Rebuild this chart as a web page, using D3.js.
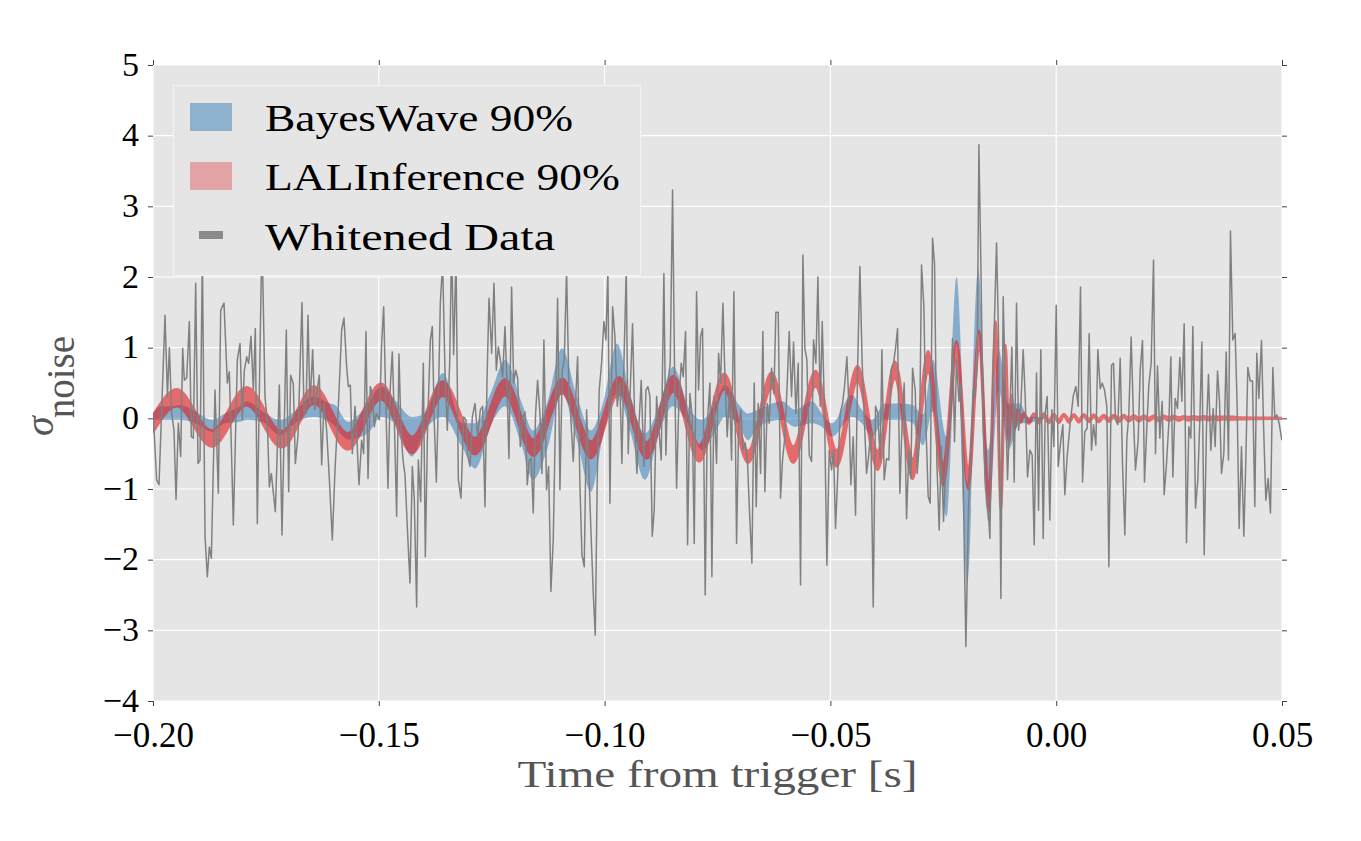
<!DOCTYPE html>
<html>
<head>
<meta charset="utf-8">
<script src="https://cdn.jsdelivr.net/npm/d3@7"></script>
<style>
  body { margin: 0; background: #ffffff; }
  svg { display: block; }
  svg text { font-family: 'Liberation Serif', 'Times New Roman', Times, serif; }
</style>
</head>
<body>
<svg id="chart" width="1361" height="841"></svg>
<script>
// ---------------- DATA (times in milliseconds from trigger) ----------------
const xTickValues = [-0.20, -0.15, -0.10, -0.05, 0.00, 0.05];
const xTickLabels = ["\u22120.20", "\u22120.15", "\u22120.10", "\u22120.05", "0.00", "0.05"];
const yTickValues = [-4, -3, -2, -1, 0, 1, 2, 3, 4, 5];
const yTickLabels = ["\u22124", "\u22123", "\u22122", "\u22121", "0", "1", "2", "3", "4", "5"];
const seriesNames = ["BayesWave 90%", "LALInference 90%", "Whitened Data"];

// Whitened data: [time (ms), sigma]
const whitenedData = [
[-199.9,0.0],[-199.2,-0.87],[-198.67,-0.94],[-197.34,1.46],[-196.8,0.31],[-196.38,1.0],[-195.86,0.07],[-195.35,-0.17],
[-194.9,-1.15],[-194.39,-0.07],[-193.87,-0.54],[-193.43,0.99],[-193.06,0.54],[-192.54,0.57],[-191.95,1.37],[-191.51,-0.26],
[-191.07,-0.28],[-190.55,1.91],[-190.03,-0.64],[-189.59,-0.59],[-189.07,2.3],[-188.48,-1.67],[-187.97,-2.24],[-187.52,-1.82],
[-187.08,-1.98],[-186.27,0.4],[-185.53,-1.06],[-185.01,1.53],[-184.28,1.63],[-183.54,0.5],[-183.1,0.66],[-182.65,-0.4],
[-182.21,-1.51],[-181.32,0.83],[-180.73,1.06],[-180.22,-0.02],[-179.77,0.68],[-179.26,0.87],[-178.82,0.78],[-178.3,1.16],
[-177.78,0.4],[-177.34,1.27],[-176.9,-1.49],[-176.38,0.68],[-175.86,2.6],[-175.2,0.31],[-174.68,-0.07],[-174.24,-0.97],
[-173.8,-0.78],[-172.91,-1.32],[-172.02,0.47],[-171.44,-1.65],[-170.48,1.25],[-169.96,-1.04],[-169.52,0.61],[-168.93,0.49],
[-168.48,-0.64],[-167.89,-0.24],[-167.01,1.64],[-166.56,0.07],[-166.12,0.07],[-165.68,1.46],[-165.24,0.17],[-164.65,0.97],
[-164.2,0.12],[-163.76,0.35],[-163.17,0.61],[-162.65,-0.66],[-162.14,0.21],[-161.55,-0.17],[-160.96,-0.85],[-160.29,-1.72],
[-159.7,-0.73],[-158.96,0.17],[-158.22,1.25],[-157.71,1.42],
[-157.12,0.73],[-156.75,0.45],[-156.31,0.47],[-155.86,-0.5],[-155.27,0.17],[-154.83,-0.31],[-154.39,-0.94],[-153.8,-0.31],
[-153.35,-0.5],[-152.84,1.23],[-152.39,-0.85],[-151.88,0.45],[-151.43,0.35],[-150.99,-0.12],[-150.55,0.07],[-149.88,-0.02],
[-149.37,1.06],[-148.92,1.58],[-148.48,0.31],[-147.97,-0.99],[-147.45,0.45],[-147.01,0.94],[-146.56,-0.02],[-146.05,-1.39],
[-145.53,0.91],[-145.09,-0.17],[-144.64,-0.59],[-144.2,-0.8],[-143.69,-1.53],[-143.1,-2.33],[-142.58,-0.68],[-142.14,-1.15],
[-141.62,-2.67],[-141.25,-0.59],[-140.73,-1.18],[-140.14,0.78],[-139.7,-1.96],[-139.18,-0.07],[-138.59,1.11],[-138.15,1.3],
[-137.71,-0.07],[-137.26,-0.9],[-136.82,0.21],[-136.38,1.63],[-135.86,2.2],[-135.35,0.68],[-134.83,-0.17],[-134.31,0.78],
[-133.87,2.5],[-133.43,0.9],[-132.91,2.3],[-132.39,-0.87],[-131.8,-1.13],[-131.21,0.02],[-130.7,-0.02],[-130.33,-0.52],
[-129.81,-0.68],[-129.29,0.02],[-128.7,0.21],[-128.11,-0.26],[-127.52,0.12],[-127.01,0.17],[-126.49,-1.25],[-126.05,0.5],
[-125.6,1.7],[-125.01,0.92],[-124.5,1.91],[-123.98,0.68],[-123.54,1.01],[-123.1,0.83],[-122.58,0.59],[-122.06,1.3],
[-121.62,0.5],[-121.18,-0.57],[-120.59,1.86],[-120.14,0.5],[-119.7,0.68],[-119.26,0.57],[-118.67,-0.4],[-118.22,-0.02],
[-117.63,0.09],[-117.12,-0.94],
[-116.68,-0.59],[-116.24,-0.57],[-115.8,-1.34],[-115.28,0.07],[-114.84,0.54],[-114.32,0.07],[-113.88,-0.78],[-113.44,1.11],
[-112.85,-1.01],[-112.4,-0.68],[-111.89,-2.45],[-111.37,-1.72],[-110.93,-0.17],[-110.41,1.7],[-109.89,-1.01],[-109.38,0.68],
[-108.93,0.83],[-108.42,2.1],[-107.9,0.4],[-107.46,-0.02],[-106.94,-0.61],[-106.5,0.12],[-105.98,0.87],[-105.47,-0.92],
[-105.02,-1.93],[-104.51,-2.1],[-103.99,0.12],[-103.55,-0.64],[-103.03,-1.58],[-102.51,-2.48],[-102.07,-3.07],[-101.63,-0.87],
[-101.19,0.4],[-100.67,0.78],[-100.15,1.37],[-99.71,1.11],[-99.27,2.1],[-98.82,-1.2],[-98.23,1.58],[-97.72,1.16],
[-97.2,0.17],[-96.61,0.5],[-96.17,-0.64],[-95.72,0.78],[-95.21,2.1],[-94.77,-0.5],[-94.32,0.4],[-93.81,1.34],
[-93.29,-0.19],[-92.85,-0.78],[-92.33,-0.02],[-91.89,0.54],[-91.3,-0.68],[-90.85,0.4],[-90.41,0.45],[-89.97,0.31],
[-89.45,-1.67],[-89.01,-1.29],[-88.49,0.31],[-88.05,-0.09],[-87.46,-0.59],[-86.87,2.05],[-86.43,-0.52],[-85.98,0.5],
[-85.47,0.78],[-84.95,3.23],[-84.51,0.68],[-84.06,-0.99],[-83.55,0.26],[-83.03,0.78],[-82.59,0.59],[-82.07,1.23],
[-81.63,-1.79],[-81.11,0.35],[-80.6,0.02],[-80.15,-1.77],[-79.64,1.79],[-79.19,0.4],[-78.75,1.16],[-78.31,1.27],
[-77.72,-2.5],[-77.27,-0.07],[-76.68,0.5],[-76.24,-2.24],[-75.8,0.31],
[-75.21,-0.64],[-74.76,0.92],[-74.32,0.5],[-73.8,1.63],[-73.36,0.59],[-72.85,-0.26],[-72.33,0.4],[-71.89,-0.59],
[-71.37,1.79],[-70.78,-1.77],[-70.34,-0.17],[-69.82,0.12],[-69.38,-0.45],[-68.86,-0.35],[-68.34,-0.64],[-67.9,-1.34],
[-67.38,-2.05],[-66.87,0.5],[-66.42,-1.25],[-65.98,0.21],[-65.46,-0.78],[-64.95,1.23],[-64.51,-1.04],[-63.99,0.21],
[-63.55,-0.07],[-63.03,0.71],[-62.51,0.35],[-62.07,1.5],[-61.55,1.5],[-61.04,-1.13],[-60.6,-0.59],[-60.08,-0.26],
[-59.56,0.5],[-59.12,1.23],[-58.6,0.31],[-58.16,1.08],[-57.64,0.07],[-57.13,0.78],[-56.61,-2.36],[-56.09,2.31],
[-55.65,0.99],[-55.21,0.83],[-54.69,-0.52],[-54.17,-0.61],[-53.73,1.11],[-53.21,0.78],[-52.77,2.0],[-52.25,0.17],
[-51.81,1.37],[-51.3,0.07],[-50.78,-2.08],[-50.26,-0.45],[-49.75,-0.73],[-49.3,-0.45],[-48.86,-1.56],[-48.27,-0.64],
[-47.83,0.07],[-47.31,0.21],[-46.87,0.45],[-46.35,0.87],[-45.91,0.21],[-45.47,-0.94],[-44.95,-0.26],[-44.43,-1.37],
[-43.99,0.68],[-43.47,2.15],[-42.96,0.78],[-42.51,0.02],[-41.99,-0.78],[-41.55,-0.54],[-41.04,-0.19],[-40.52,-2.67],
[-40.0,0.17],[-39.49,0.07],[-38.97,-0.59],[-38.6,0.97],[-38.09,-0.87],[-37.57,-0.57],[-37.05,-0.59],[-36.54,0.68],
[-36.02,0.78],[-35.58,0.99],[-35.13,1.27],[-34.62,-1.06],
[-34.1,-0.02],[-33.66,0.5],[-33.14,-1.42],[-32.62,-0.45],[-32.18,-0.85],[-31.81,0.71],[-31.22,0.4],[-30.78,-0.78],
[-30.26,-0.31],[-29.82,2.17],[-29.3,1.58],[-28.86,-0.07],[-28.34,-1.11],[-27.9,-1.2],[-27.38,2.55],[-26.94,2.19],
[-26.42,-0.64],[-25.91,-1.58],[-25.46,-0.4],[-24.95,-1.46],[-24.43,-0.64],[-23.91,-0.17],[-23.47,-0.07],[-22.96,1.13],
[-22.51,-0.33],[-22.07,0.83],[-21.55,0.24],[-21.11,0.5],[-20.59,-0.92],[-20.0,-3.23],[-19.41,-1.25],[-18.9,-0.64],
[-18.38,0.4],[-17.94,0.31],[-17.49,0.78],[-17.12,3.87],[-16.68,2.19],[-16.17,-0.17],[-15.65,-1.01],[-15.21,-1.11],
[-14.69,-1.7],[-14.25,0.02],[-13.73,1.25],[-13.21,2.48],[-12.77,1.16],[-12.25,-2.55],[-11.74,1.72],[-11.29,0.45],
[-10.78,-0.87],[-10.26,0.07],[-9.82,1.01],[-9.3,-0.9],[-8.79,1.63],[-8.34,-0.17],[-7.83,0.17],[-7.31,0.97],
[-6.87,0.31],[-6.35,-0.83],[-5.83,-0.45],[-5.32,-0.52],[-4.87,-1.79],[-4.36,0.64],[-3.91,-1.3],[-3.4,0.97],
[-2.88,-1.7],[-2.44,0.07],[-2.0,0.31],[-1.41,-1.44],[-0.96,0.12],[-0.52,-0.4],[0.0,1.6],[0.44,-0.68],
[0.96,-0.35],[1.47,-0.09],[1.91,-1.08],[2.43,-0.54],[3.02,-0.12],[3.76,0.31],[4.35,0.45],[4.87,0.17],
[5.38,1.86],[5.83,-0.9],
[6.34,-0.19],[6.86,-0.14],[7.3,1.2],[7.82,-0.45],[8.26,-0.09],[8.78,-0.38],[9.22,0.97],[9.74,0.42],
[10.18,0.5],[10.7,0.4],[11.21,0.17],[11.66,-2.1],[12.25,0.75],[12.69,0.78],[13.13,-0.02],[13.65,-0.09],
[14.17,0.85],[14.68,-0.64],[15.2,-1.65],[15.64,-0.31],[16.09,0.07],[16.6,1.15],[17.12,-0.02],[17.56,-0.73],
[18.15,-0.31],[18.6,0.68],[19.11,1.1],[19.55,-0.9],[20.07,-0.12],[20.51,0.47],[21.03,0.78],[21.55,2.24],
[21.99,-0.5],[22.43,0.74],[22.95,-0.28],[23.47,0.24],[23.91,-1.08],[24.43,-0.64],[24.94,-0.07],[25.38,0.87],
[25.83,-0.83],[26.34,0.28],[26.86,0.14],[27.38,0.86],[27.82,0.24],[28.34,1.34],[28.85,-1.76],[29.37,-0.12],
[29.81,-0.28],[30.26,1.3],[30.85,-1.27],[31.36,-0.87],[31.81,-0.02],[32.25,1.08],[32.77,-1.93],[33.28,-0.12],
[33.72,0.62],[34.24,-0.45],[34.76,0.14],[35.2,-0.4],[35.72,0.67],[36.16,0.24],[36.6,-0.78],[37.12,-0.5],
[37.64,0.94],[38.15,-0.59],[38.59,2.65],[39.11,1.11],[39.63,1.2],[40.07,0.17],[40.51,-1.56],[41.03,-0.4],
[41.55,-1.67],[41.99,-0.59],[42.43,0.72],[42.95,0.53],[43.47,0.53],[43.98,-1.25],[44.42,0.92],[44.87,0.28],
[45.46,1.1],[45.9,-0.07],[46.42,-1.16],[46.93,-0.85],[47.45,-1.34],[47.97,0.72],[48.41,0.0],[48.85,0.05],
[49.37,-0.07],[49.96,-0.31]
];

// BayesWave 90% band
const bayesTimeMs = [-200.0,-198.45,-196.24,-194.02,-190.7,-186.94,-184.06,-180.74,-179.19,-175.87,-171.88,-168.56,-164.58,-160.81,
  -159.7,-156.83,-152.4,-149.52,-146.42,-142.66,-139.78,-135.79,-131.59,-128.71,-124.95,-122.07,-118.3,-115.87,-112.77,-109.45,
  -106.13,-103.03,-100.37,-97.27,-94.39,-91.07,-87.75,-84.87,-81.11,-78.45,-75.57,-73.36,-70.48,-68.27,-66.05,-60.74,-57.86,
  -54.1,-51.89,-49.67,-45.24,-43.03,-40.81,-37.93,-34.61,-31.73,-29.52,-27.31,-24.27,-22.06,-19.71,-17.28,-15.07,-12.7,-10.64,
  -8.05,-6.21,-3.62,-2.0];
const bayesUpper = [0.07,0.17,0.17,0.19,0.1,-0.02,0.07,0.17,0.24,0.1,-0.02,0.1,0.31,0.21,
  0.19,-0.05,0.21,0.45,0.26,0.02,0.07,0.64,-0.07,-0.07,0.4,0.83,0.21,-0.17,0.21,0.99,
  0.31,-0.17,0.21,1.06,0.35,-0.21,0.21,0.73,0.12,-0.02,0.21,0.47,0.21,0.07,0.12,0.24,0.12,
  0.24,0.07,-0.07,0.33,0.12,-0.02,0.21,0.21,0.19,0.05,0.83,-0.26,2.0,-0.92,2.12,-0.45,0.96,0.21,
  0.21,0.02,0.02,0.0];
const bayesLower = [-0.02,-0.02,-0.02,-0.02,-0.07,-0.19,-0.07,-0.05,-0.02,-0.05,-0.24,-0.07,0.02,-0.05,
  -0.12,-0.3,-0.21,0.02,-0.07,-0.54,-0.17,0.02,-0.4,-0.71,-0.07,0.17,-0.4,-0.87,-0.45,0.35,
  -0.31,-1.04,-0.26,0.35,-0.17,-0.87,-0.17,0.17,-0.12,-0.45,-0.2,0.02,-0.07,-0.31,-0.12,-0.02,-0.12,
  -0.07,-0.12,-0.26,0.02,-0.07,-0.26,-0.02,-0.02,-0.07,-0.38,0.1,-1.39,1.06,-2.33,1.2,-1.46,0.4,-0.45,
  -0.07,-0.07,-0.02,0.0];

// LALInference 90% band
const lalTimeMs = [-200.0,-194.75,-187.0,-179.25,-171.51,-164.29,-156.89,-149.52,-142.59,-135.86,-128.71,-122.07,-115.8,
  -109.38,-103.03,-96.76,-90.7,-84.8,-79.05,-73.51,-68.2,-63.02,-58.24,-53.28,-48.63,-44.0,-39.55,-35.72,-31.8,-28.35,
  -25.03,-22.06,-19.49,-17.05,-14.91,-13.42,-12.25,-11.21,-10.48,-9.88,-9.22,-8.49,-7.83,
  -7.16,-6.05,-4.95,-3.84,-2.73,-1.63,-0.52,0.59,1.69,2.8,3.91,5.01,6.12,7.23,8.33,9.44,10.55,11.66,12.76,13.87,14.98,
  16.09,17.19,18.3,19.4,20.51,21.62,22.72,23.83,24.94,26.04,27.15,28.26,29.37,30.47,31.58,32.69,33.79,34.9,36.01,37.12,
  38.22,39.33,40.66,50.0];
const lalUpper = [0.04,0.41,-0.17,0.44,-0.18,0.45,-0.21,0.49,-0.26,0.52,-0.28,0.55,-0.3,
  0.56,-0.33,0.58,-0.34,0.6,-0.38,0.63,-0.46,0.65,-0.4,0.67,-0.45,0.74,-0.46,0.8,-0.57,0.95,
  -0.64,1.09,-0.69,1.24,-1.02,1.37,-1.0,1.04,-0.16,0.33,-0.04,0.14,0.01,
  0.078,-0.032,0.068,-0.022,0.068,-0.022,0.063,-0.017,0.063,-0.012,0.058,-0.012,0.058,-0.007,0.053,-0.007,0.048,-0.002,0.048,-0.002,0.048,
  0.003,0.043,0.003,0.038,0.008,0.038,0.008,0.038,0.013,0.033,0.013,0.03,0.016,0.028,0.018,0.028,0.02,0.026,0.022,0.023,
  0.024,0.021,0.012,0.006];
const lalLower = [-0.2,0.17,-0.4,0.18,-0.41,0.21,-0.44,0.27,-0.49,0.32,-0.51,0.33,-0.53,
  0.36,-0.56,0.36,-0.57,0.38,-0.61,0.41,-0.63,0.43,-0.63,0.45,-0.68,0.52,-0.73,0.56,-0.86,0.65,
  -0.95,0.83,-1.0,0.96,-1.33,0.99,-1.29,0.76,-0.35,0.19,-0.15,0.06,-0.06,
  0.042,-0.078,0.032,-0.068,0.032,-0.068,0.027,-0.063,0.027,-0.058,0.022,-0.058,0.022,-0.053,0.017,-0.053,0.012,-0.048,0.012,-0.048,0.012,
  -0.043,0.007,-0.043,0.002,-0.038,0.002,-0.038,0.002,-0.033,-0.003,-0.033,-0.006,-0.03,-0.008,-0.028,-0.008,-0.026,-0.01,-0.024,-0.013,
  -0.022,-0.015,-0.012,-0.006];

// ---------------- CHART ----------------
const FONT = "'Liberation Serif', 'Times New Roman', Times, serif";
const svg = d3.select("#chart");
const plotLeft = 153, plotRight = 1282, plotTop = 65, plotBottom = 701;

const x = d3.scaleLinear().domain([-0.20, 0.05]).range([plotLeft, plotRight]);
const y = d3.scaleLinear().domain([-4, 5]).range([plotBottom, plotTop]);
const tx = ms => x(ms / 1000);

svg.append("rect").attr("x", plotLeft).attr("y", plotTop)
  .attr("width", plotRight - plotLeft).attr("height", plotBottom - plotTop)
  .attr("fill", "#e5e5e5");

// grid
const grid = svg.append("g");
grid.selectAll("line.gx").data(xTickValues).enter().append("line")
  .attr("x1", d => x(d)).attr("x2", d => x(d)).attr("y1", plotTop).attr("y2", plotBottom)
  .attr("stroke", "#ffffff").attr("stroke-width", 1.1);
grid.selectAll("line.gy").data(yTickValues).enter().append("line")
  .attr("y1", d => y(d)).attr("y2", d => y(d)).attr("x1", plotLeft).attr("x2", plotRight)
  .attr("stroke", "#ffffff").attr("stroke-width", 1.1);

svg.append("clipPath").attr("id", "plotclip").append("rect")
  .attr("x", plotLeft).attr("y", plotTop).attr("width", plotRight - plotLeft).attr("height", plotBottom - plotTop);
const plot = svg.append("g").attr("clip-path", "url(#plotclip)");

// BayesWave band
const bayesRows = bayesTimeMs.map((t, i) => ({ t, lo: bayesLower[i], hi: bayesUpper[i] }));
plot.append("path").datum(bayesRows)
  .attr("d", d3.area().x(d => tx(d.t)).y0(d => y(d.lo)).y1(d => y(d.hi)).curve(d3.curveMonotoneX))
  .attr("fill", "#377eb8").attr("fill-opacity", 0.55);

// LALInference band (group opacity so fill + edge stroke blend uniformly)
const lalRows = lalTimeMs.map((t, i) => ({ t, lo: lalLower[i], hi: lalUpper[i] }));
plot.append("g").attr("opacity", 0.6)
  .append("path").datum(lalRows)
  .attr("d", d3.area().x(d => tx(d.t)).y0(d => y(d.lo)).y1(d => y(d.hi)).curve(d3.curveMonotoneX))
  .attr("fill", "#e41a1c").attr("stroke", "#e41a1c").attr("stroke-width", 2.5)
  .attr("stroke-linejoin", "round");

// Whitened data
plot.append("path").datum(whitenedData)
  .attr("d", d3.line().x(d => tx(d[0])).y(d => y(d[1])))
  .attr("fill", "none").attr("stroke", "#808080").attr("stroke-width", 1.5)
  .attr("stroke-linejoin", "round");

// axes
function styleAxis(g, fs) {
  g.select(".domain").remove();
  g.selectAll(".tick line").attr("stroke", "#444").attr("stroke-width", 1);
  g.attr("font-family", FONT).attr("font-size", fs);
  g.selectAll(".tick text").attr("fill", "#000");
}
svg.append("g").attr("transform", `translate(0,${plotBottom})`)
  .call(d3.axisBottom(x).tickValues(xTickValues).tickFormat((d, i) => xTickLabels[i]).tickSize(5).tickPadding(16))
  .call(styleAxis, 35);
svg.append("g").attr("transform", `translate(0,${plotTop})`)
  .call(d3.axisTop(x).tickValues(xTickValues).tickFormat(() => "").tickSize(5))
  .call(styleAxis, 35);
const gy = svg.append("g").attr("transform", `translate(${plotLeft},0)`)
  .call(d3.axisLeft(y).tickValues(yTickValues).tickFormat((d, i) => yTickLabels[i]).tickSize(5).tickPadding(9))
  .call(styleAxis, 34);
gy.selectAll(".tick text").attr("dy", "0.3em");
svg.append("g").attr("transform", `translate(${plotRight},0)`)
  .call(d3.axisRight(y).tickValues(yTickValues).tickFormat(() => "").tickSize(5))
  .call(styleAxis, 35);

// axis titles
svg.append("text").attr("x", (plotLeft + plotRight) / 2).attr("y", 787)
  .attr("text-anchor", "middle").attr("font-family", FONT).attr("font-size", 37)
  .attr("fill", "#555555").attr("textLength", 400).attr("lengthAdjust", "spacingAndGlyphs")
  .text("Time from trigger [s]");

const yl = svg.append("text").attr("transform", "translate(53,386) rotate(-90)")
  .attr("text-anchor", "middle").attr("font-family", FONT).attr("fill", "#555555");
yl.append("tspan").attr("font-size", 40).attr("font-style", "italic").text("\u03c3");
yl.append("tspan").attr("font-size", 39).attr("dy", 21).attr("dx", -2).text("noise");

// legend
const lg = svg.append("g");
lg.append("rect").attr("x", 173.5).attr("y", 85.5).attr("width", 467).attr("height", 190)
  .attr("fill", "#e5e5e5").attr("stroke", "#f2f2f2").attr("stroke-width", 1.2);
lg.append("rect").attr("x", 190).attr("y", 103).attr("width", 42).attr("height", 28)
  .attr("fill", "#377eb8").attr("fill-opacity", 0.5);
lg.append("rect").attr("x", 190).attr("y", 162).attr("width", 42).attr("height", 28)
  .attr("fill", "#e41a1c").attr("fill-opacity", 0.32);
lg.append("rect").attr("x", 199).attr("y", 231).attr("width", 24).attr("height", 8)
  .attr("fill", "#8a8a8a");
const legendBaselines = [131, 190, 250];
const legendWidths = [308, 355, 290];
seriesNames.forEach((name, i) => {
  lg.append("text").attr("x", 265).attr("y", legendBaselines[i])
    .attr("font-family", FONT).attr("font-size", 37).attr("fill", "#000")
    .attr("textLength", legendWidths[i]).attr("lengthAdjust", "spacingAndGlyphs")
    .text(name);
});
</script>
</body>
</html>
